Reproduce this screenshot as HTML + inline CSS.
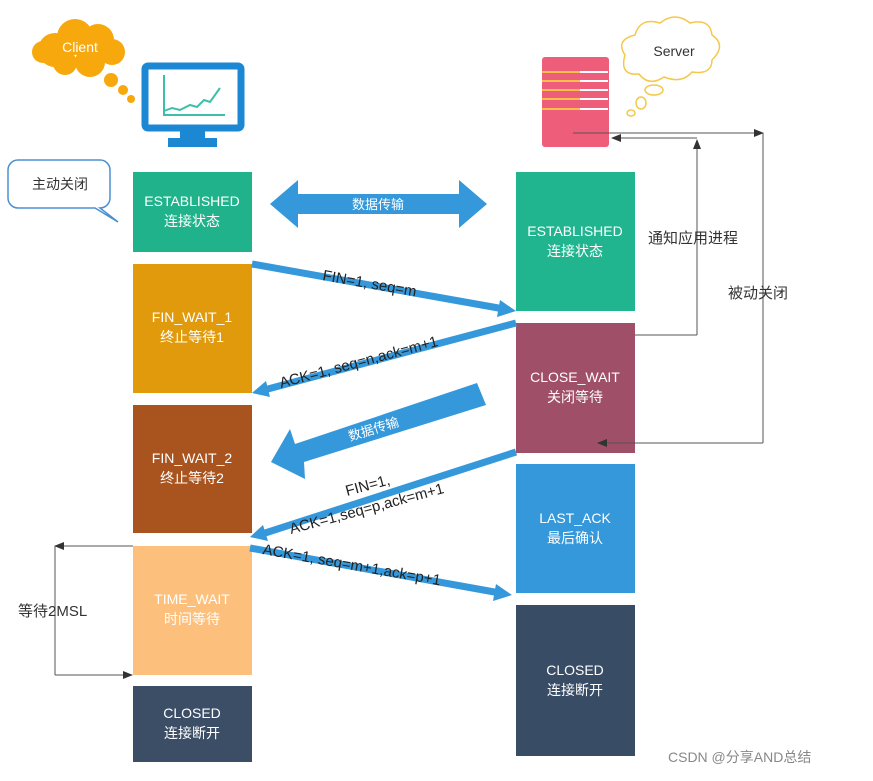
<!DOCTYPE html>
<html><head><meta charset="utf-8"><style>
body{margin:0;background:#fff}
svg text{font-family:"Liberation Sans","Noto Sans CJK SC",sans-serif}
</style></head><body>
<svg width="873" height="776" viewBox="0 0 873 776" xmlns="http://www.w3.org/2000/svg">
<defs>
<marker id="ga" markerWidth="10" markerHeight="10" refX="9" refY="5" orient="auto" markerUnits="userSpaceOnUse"><path d="M0,1 L10,5 L0,9 z" fill="#333"/></marker>
</defs>
<!-- client cloud -->
<g fill="#f7a80d">
<circle cx="55" cy="50" r="17"/><circle cx="75" cy="37" r="18"/><circle cx="98" cy="40" r="16"/><circle cx="112" cy="52" r="13"/><circle cx="90" cy="62" r="15"/><circle cx="65" cy="63" r="12"/><circle cx="43" cy="52" r="11"/>
<circle cx="111" cy="80" r="7"/><circle cx="123" cy="90" r="5"/><circle cx="131" cy="99" r="4"/>
</g>
<text x="80" y="52" fill="#fff" font-size="14" text-anchor="middle">Client</text>
<!-- monitor -->
<rect x="145" y="66" width="96" height="62" rx="3" fill="#fff" stroke="#1c88d4" stroke-width="7"/>
<rect x="180" y="130" width="25" height="8" fill="#1c88d4"/>
<rect x="168" y="138" width="49" height="9" fill="#1c88d4"/>
<polyline points="164,75 164,115 225,115" fill="none" stroke="#3bbfa9" stroke-width="2"/>
<polyline points="164,111 172,108 180,110 190,105 197,107 204,100 210,102 220,88" fill="none" stroke="#3bbfa9" stroke-width="2"/>
<!-- 主动关闭 bubble -->
<path d="M18,160 H100 a10,10 0 0 1 10,10 V198 a10,10 0 0 1 -10,10 L118,222 L95,208 H18 a10,10 0 0 1 -10,-10 V170 a10,10 0 0 1 10,-10z" fill="#fff" stroke="#4a90d0" stroke-width="1.5"/>
<text x="60" y="189" font-size="14" fill="#333" text-anchor="middle">主动关闭</text>
<!-- server -->
<rect x="542" y="57" width="67" height="90" rx="3" fill="#ee5e7a"/>
<g stroke-width="2"><line x1="542" y1="72" x2="580" y2="72" stroke="#f7c04a"/><line x1="580" y1="72" x2="608" y2="72" stroke="#fff"/>
<line x1="542" y1="81" x2="580" y2="81" stroke="#f7c04a"/><line x1="580" y1="81" x2="608" y2="81" stroke="#fff"/>
<line x1="542" y1="90" x2="580" y2="90" stroke="#f7c04a"/><line x1="580" y1="90" x2="608" y2="90" stroke="#fff"/>
<line x1="542" y1="99" x2="580" y2="99" stroke="#f7c04a"/><line x1="580" y1="99" x2="608" y2="99" stroke="#fff"/>
<line x1="542" y1="109" x2="580" y2="109" stroke="#f7c04a"/><line x1="580" y1="109" x2="608" y2="109" stroke="#fff"/></g>
<g fill="#fff" stroke="#f5c84a" stroke-width="1.5">
<path d="M625,55 q-10,-15 10,-20 q5,-18 25,-12 q15,-12 30,0 q20,-5 22,12 q15,10 0,25 q0,15 -20,12 q-10,12 -28,5 q-15,10 -25,-3 q-20,2 -14,-19z"/>
<ellipse cx="654" cy="90" rx="9" ry="5"/><ellipse cx="641" cy="103" rx="5" ry="6"/><ellipse cx="631" cy="113" rx="4" ry="3"/>
</g>
<text x="674" y="56" font-size="14" fill="#333" text-anchor="middle">Server</text>
<!-- boxes -->
<g font-size="14" fill="#fff" text-anchor="middle">
<rect x="133" y="172" width="119" height="80" fill="#20b28b"/><text x="192" y="206">ESTABLISHED</text><text x="192" y="226">连接状态</text>
<rect x="133" y="264" width="119" height="129" fill="#e09a0b"/><text x="192" y="322">FIN_WAIT_1</text><text x="192" y="342">终止等待1</text>
<rect x="133" y="405" width="119" height="128" fill="#a9541f"/><text x="192" y="463">FIN_WAIT_2</text><text x="192" y="483">终止等待2</text>
<rect x="133" y="546" width="119" height="129" fill="#fdc07c"/><text x="192" y="604">TIME_WAIT</text><text x="192" y="624">时间等待</text>
<rect x="133" y="686" width="119" height="76" fill="#3b4e66"/><text x="192" y="718">CLOSED</text><text x="192" y="738">连接断开</text>
<rect x="516" y="172" width="119" height="139" fill="#20b58f"/><text x="575" y="236">ESTABLISHED</text><text x="575" y="256">连接状态</text>
<rect x="516" y="323" width="119" height="130" fill="#a04f68"/><text x="575" y="382">CLOSE_WAIT</text><text x="575" y="402">关闭等待</text>
<rect x="516" y="464" width="119" height="129" fill="#3498db"/><text x="575" y="523">LAST_ACK</text><text x="575" y="543">最后确认</text>
<rect x="516" y="605" width="119" height="151" fill="#394c66"/><text x="575" y="675">CLOSED</text><text x="575" y="695">连接断开</text>
</g>
<!-- double arrow -->
<polygon points="270,204 298,180 298,194 459,194 459,180 487,204 459,228 459,214 298,214 298,228" fill="#3498db"/>
<text x="378" y="209" font-size="13" fill="#fff" text-anchor="middle">数据传输</text>
<!-- message arrows -->
<g stroke="#3498db" stroke-width="7" fill="#3498db">
<line x1="252" y1="264" x2="504" y2="309"/><polygon points="516,311 500,300 497,317" stroke="none"/>
<line x1="516" y1="323" x2="264" y2="390"/><polygon points="252,393 266,381 270,397" stroke="none"/>
<line x1="516" y1="452" x2="262" y2="534"/><polygon points="250,537 263,525 268,541" stroke="none"/>
<line x1="250" y1="548" x2="500" y2="593"/><polygon points="512,595 496,584 493,601" stroke="none"/>
</g>
<polygon points="271,462 290,429 295,444 477,383 486,405 304,462 305,479" fill="#3498db"/>
<text x="0" y="0" font-size="13" fill="#fff" transform="translate(350,441) rotate(-17)">数据传输</text>
<g font-size="15" fill="#222">
<text transform="translate(322,280) rotate(10)">FIN=1,  seq=m</text>
<text transform="translate(281,388) rotate(-15)">ACK=1,  seq=n,ack=m+1</text>
<text transform="translate(347,496) rotate(-15)">FIN=1,</text>
<text transform="translate(291,534) rotate(-15)">ACK=1,seq=p,ack=m+1</text>
<text transform="translate(262,554) rotate(10)">ACK=1,  seq=m+1,ack=p+1</text>
</g>
<!-- brackets -->
<g stroke="#555" stroke-width="1" fill="none">
<line x1="573" y1="133" x2="763" y2="133" marker-end="url(#ga)"/>
<line x1="763" y1="133" x2="763" y2="443"/>
<line x1="763" y1="443" x2="598" y2="443" marker-end="url(#ga)"/>
<line x1="697" y1="138" x2="612" y2="138" marker-end="url(#ga)"/>
<line x1="697" y1="335" x2="697" y2="140" marker-end="url(#ga)"/>
<line x1="635" y1="335" x2="697" y2="335"/>
<line x1="133" y1="546" x2="55" y2="546" marker-end="url(#ga)"/>
<line x1="55" y1="546" x2="55" y2="675"/>
<line x1="55" y1="675" x2="132" y2="675" marker-end="url(#ga)"/>
</g>
<g font-size="15" fill="#333">
<text x="648" y="243">通知应用进程</text>
<text x="728" y="298">被动关闭</text>
<text x="18" y="616">等待2MSL</text>
</g>
<text x="668" y="762" font-size="14" fill="#888">CSDN @分享AND总结</text>
</svg>
</body></html>
